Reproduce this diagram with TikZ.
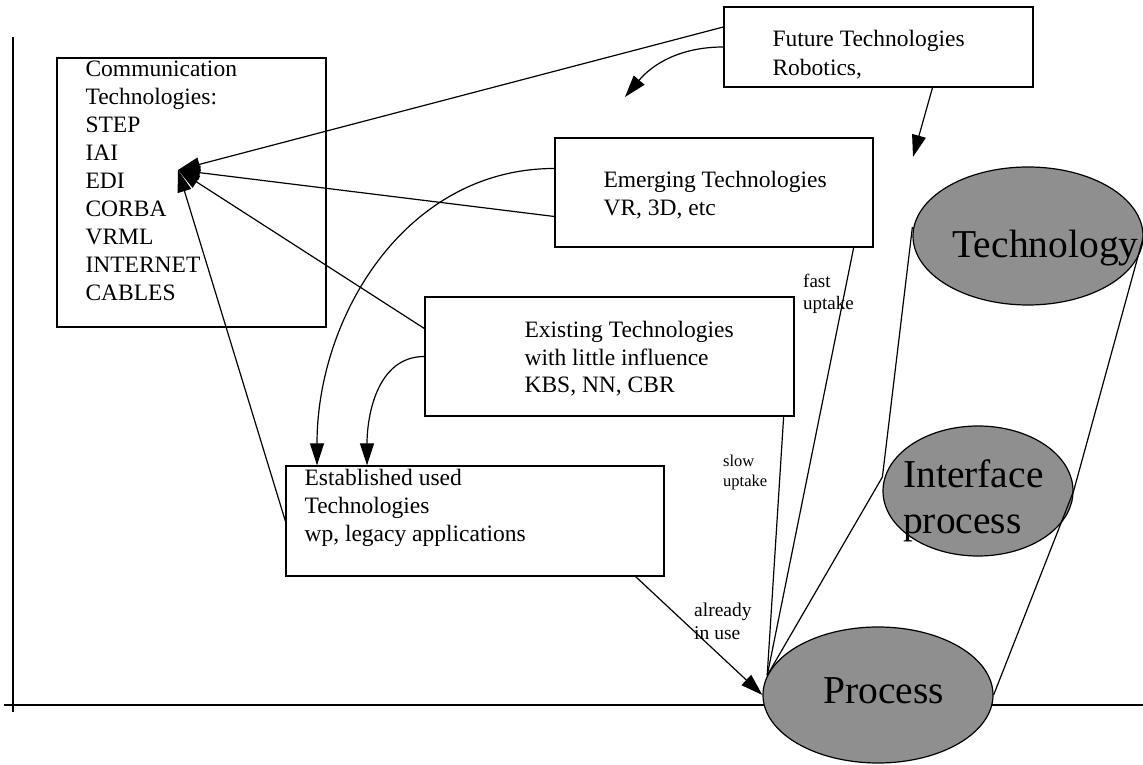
\documentclass[tikz,border=0pt]{standalone}
\usepackage{fontspec}
\setmainfont{Liberation Serif}
\usetikzlibrary{arrows.meta,shapes.geometric}
\definecolor{BlobGrey}{HTML}{8F8F8F}

\begin{document}
\begin{tikzpicture}[x=1pt,y=1pt,
      box/.style={draw, line width=1.3pt, inner sep=0pt},
      txt/.style={anchor=north west, align=left, inner sep=0pt,
        font=\fontsize{23.5}{28}\selectfont},
      note/.style={anchor=north west, align=left, inner sep=0pt},
      blob/.style={ellipse, draw, fill=BlobGrey, line width=1.2pt, inner sep=0pt},
      bigtxt/.style={inner sep=0pt, font=\fontsize{39.5}{46}\selectfont},
      arr/.style={-{Triangle[length=22pt,width=14pt]}, line width=1.2pt},
      link/.style={line width=1.2pt}
    ]
      \useasboundingbox (0,0) rectangle (1143,765);
      % axes
      \draw[link] (13,728) -- (13,53);
      \draw[link] (4,60) -- (1143,60);
      % boxes
      \node[box, minimum width=269, minimum height=269] (comm) at (191.5,572.5) {};
      \node[box, minimum width=309, minimum height=80] (future) at (878.5,718) {};
      \node[box, minimum width=318, minimum height=109] (emerg) at (714,572.5) {};
      \node[box, minimum width=369, minimum height=119] (exist) at (609.5,408.5) {};
      \node[box, minimum width=378, minimum height=110] (estab) at (475,244) {};
      \node[txt] (commtxt) at ([shift={(29,-3)}]comm.north west)
        {Communication\\Technologies:\\STEP\\IAI\\EDI\\CORBA\\VRML\\INTERNET\\CABLES};
      \node[txt, font=\fontsize{23.5}{29}\selectfont] (futtxt) at ([shift={(49,-24)}]future.north west)
        {Future Technologies\\Robotics,};
      \node[txt] (emergtxt) at ([shift={(49,-34)}]emerg.north west)
        {Emerging Technologies\\VR, 3D, etc};
      \node[txt, font=\fontsize{23.5}{27.5}\selectfont] (existtxt) at ([shift={(100,-25)}]exist.north west)
        {Existing Technologies\\with little influence\\KBS, NN, CBR};
      \node[txt] (estabtxt) at ([shift={(19,-4)}]estab.north west)
        {Established used\\Technologies\\wp, legacy applications};
      % cylinder
      \node[blob, minimum width=230, minimum height=138] (tech) at (1028,529) {};
      \node[blob, minimum width=190, minimum height=130] (iface) at (978,274) {};
      \node[blob, minimum width=230, minimum height=136] (process) at (878,70) {};
      \node[bigtxt] (techtxt) at (1045.5,517) {Technology};
      \node[bigtxt, anchor=north west, align=left] (ifacetxt) at (903,306) {Interface\\process};
      \node[bigtxt] (proctxt) at (883.5,74) {Process};
      \draw[link] ([yshift=9pt]tech.west) -- ([yshift=14pt]iface.west) -- (process.170);
      \draw[link] (tech.east) -- (iface.east) -- (process.east);
      % free ends
      \coordinate (hub) at (178,595);
      \coordinate (futtip) at (625,668);
      \coordinate (techtip) at (913,608);
      % arrows
      \draw[arr] ([yshift=20pt]future.west) -- (hub);
      \draw[arr] (future.west) to[out=180,in=50] (futtip);
      \draw[arr] ([xshift=54pt]future.south) -- (techtip);
      \draw[arr] ([yshift=-24pt]emerg.west) -- (hub);
      \draw[arr] ([yshift=24pt]emerg.west) to[out=180,in=90] ([xshift=-158pt]estab.north);
      \draw[arr] ([yshift=28pt]exist.west) -- (hub);
      \draw[arr] (exist.west) to[out=180,in=90] ([xshift=-108pt]estab.north);
      \draw[arr] (estab.west) -- (hub);
      \draw[link] ([xshift=-20pt]emerg.south east) -- (process.170);
      \draw[link] ([xshift=-11pt]exist.south east) -- (process.170);
      \draw[arr] ([xshift=-29pt]estab.south east) -- (process.west);
      % labels
      \node[note, font=\fontsize{19}{22}\selectfont] (fastlbl) at (803,491) {fast\\uptake};
      \node[note, font=\fontsize{16.5}{20}\selectfont] (slowlbl) at (723,310) {slow\\uptake};
      \node[note, font=\fontsize{19.5}{23}\selectfont] (uselbl) at (694,162) {already\\in use};
    \end{tikzpicture}
\end{document}
